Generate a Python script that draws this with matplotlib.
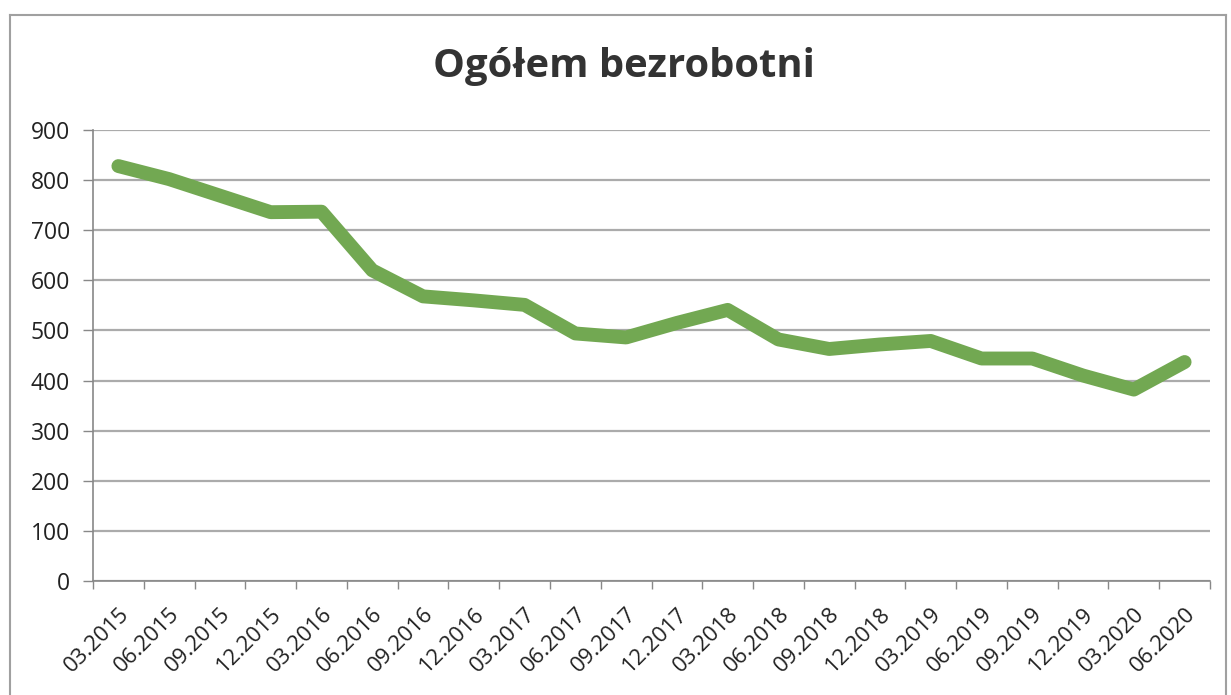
import matplotlib
matplotlib.use('Agg')
import matplotlib.pyplot as plt
import matplotlib.transforms as mtransforms
import numpy as np

quarters = ['03.2015', '06.2015', '09.2015', '12.2015', '03.2016', '06.2016',
            '09.2016', '12.2016', '03.2017', '06.2017', '09.2017', '12.2017',
            '03.2018', '06.2018', '09.2018', '12.2018', '03.2019', '06.2019',
            '09.2019', '12.2019', '03.2020', '06.2020']
unemployed = [828, 802, 769, 736, 737, 620, 568, 560, 551, 494, 486, 515,
              541, 482, 463, 472, 479, 444, 444, 410, 382, 437]
y_ticks = [0, 100, 200, 300, 400, 500, 600, 700, 800, 900]

plt.rcParams['font.family'] = ['Open Sans', 'DejaVu Sans']

W, H = 1231, 695
fig = plt.figure(figsize=(W / 100, H / 100), dpi=100, facecolor='white')
ax = fig.add_axes([93 / W, 1 - 581 / H, (1210 - 93) / W, (581 - 130) / H])

# chart frame (left, top, right edges; bottom runs off the scan)
frame_kw = dict(transform=fig.transFigure, color='#a0a0a0', linewidth=1.5)
fig.add_artist(plt.Line2D([10 / W, 10 / W], [0, 1 - 15 / H], **frame_kw))
fig.add_artist(plt.Line2D([10 / W, 1226 / W], [1 - 15 / H, 1 - 15 / H], **frame_kw))
fig.add_artist(plt.Line2D([1226 / W, 1226 / W], [0, 1 - 15 / H], **frame_kw))

x = np.arange(len(quarters))
ax.plot(x, unemployed, color='#72a852', linewidth=10, solid_joinstyle='round',
        solid_capstyle='round', zorder=3)

ax.set_xlim(-0.5, len(quarters) - 0.5)
ax.set_ylim(0, 900)
ax.set_yticks(y_ticks)
ax.set_yticklabels([str(v) for v in y_ticks], fontsize=16.5, color='#222222')
ax.yaxis.grid(True, color='#ababab', linewidth=1.6)
ax.set_axisbelow(True)

ax.set_xticks(x)
ax.set_xticklabels(quarters, rotation=45, ha='right', va='top',
                   rotation_mode='anchor', fontsize=16, color='#222222')
shift = mtransforms.ScaledTranslation(-7 / 100, 0, fig.dpi_scale_trans)
for lbl in ax.get_xticklabels():
    lbl.set_transform(lbl.get_transform() + shift)
ax.set_xticks(np.arange(-0.5, len(quarters), 1), minor=True)
ax.tick_params(axis='x', which='major', length=0, pad=16.5)
ax.tick_params(axis='x', which='minor', length=6, color='#888888', width=1)
ax.tick_params(axis='y', length=7.2, color='#888888', width=1, pad=9.4)

for side in ['top', 'right']:
    ax.spines[side].set_visible(False)
ax.spines['left'].set_color('#888888')
ax.spines['bottom'].set_color('#888888')
ax.spines['left'].set_linewidth(1.2)
ax.spines['bottom'].set_linewidth(1.2)

fig.text(0.5 + 8 / W, 1 - 66 / H, 'Ogółem bezrobotni', ha='center', va='center',
         fontsize=28.8, fontweight='bold', color='#333333')

plt.savefig('out.png', dpi=100, facecolor='white')
plt.close()
